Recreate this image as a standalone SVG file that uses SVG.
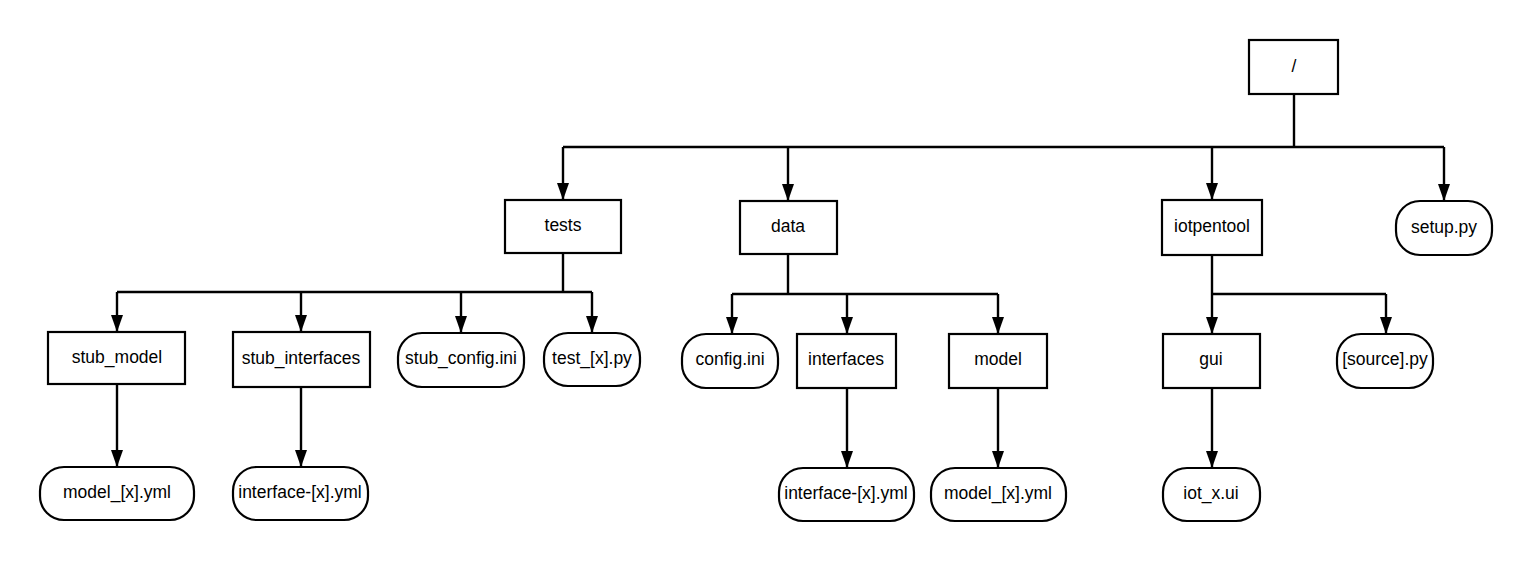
<svg xmlns="http://www.w3.org/2000/svg" width="1533" height="562" viewBox="0 0 1533 562">
  <style>
    .dir rect, .file rect { fill: #ffffff; stroke: #000000; stroke-width: 2.2; }
    text { font-family: "Liberation Sans", Arial, sans-serif; font-size: 17.5px; fill: #000000; text-anchor: middle; dominant-baseline: central; }
    .links path { fill: none; stroke: #000000; stroke-width: 2.4; }
  </style>
  <defs>
    <marker id="arrow" markerUnits="userSpaceOnUse" markerWidth="17" markerHeight="12" refX="17" refY="6" orient="auto" viewBox="0 0 17 12">
      <path d="M0,0 L17,6 L0,12 Z" fill="#000000"/>
    </marker>
  </defs>
  <rect width="1533" height="562" fill="#ffffff"/>

  <!-- connectors -->
  <g class="links">
    <!-- root -->
    <path d="M1294,94 V147"/>
    <path d="M563,147 H1444"/>
    <path d="M563,147 V200" marker-end="url(#arrow)"/>
    <path d="M788,147 V201" marker-end="url(#arrow)"/>
    <path d="M1212,147 V200" marker-end="url(#arrow)"/>
    <path d="M1444,147 V201" marker-end="url(#arrow)"/>
    <!-- tests -->
    <path d="M563,253 V292"/>
    <path d="M117,292 H592"/>
    <path d="M117,292 V332" marker-end="url(#arrow)"/>
    <path d="M301,292 V332" marker-end="url(#arrow)"/>
    <path d="M461,292 V333" marker-end="url(#arrow)"/>
    <path d="M592,292 V333" marker-end="url(#arrow)"/>
    <path d="M117,384 V467" marker-end="url(#arrow)"/>
    <path d="M301,387 V467" marker-end="url(#arrow)"/>
    <!-- data -->
    <path d="M788,254 V294"/>
    <path d="M732,294 H998"/>
    <path d="M732,294 V334" marker-end="url(#arrow)"/>
    <path d="M847,294 V334" marker-end="url(#arrow)"/>
    <path d="M998,294 V334" marker-end="url(#arrow)"/>
    <path d="M847,388 V468" marker-end="url(#arrow)"/>
    <path d="M998,388 V468" marker-end="url(#arrow)"/>
    <!-- iotpentool -->
    <path d="M1212,255 V294"/>
    <path d="M1212,294 H1386"/>
    <path d="M1212,294 V334" marker-end="url(#arrow)"/>
    <path d="M1386,294 V334" marker-end="url(#arrow)"/>
    <path d="M1212,388 V468" marker-end="url(#arrow)"/>
  </g>

  <!-- directories -->
  <g id="root" class="dir"><rect x="1249" y="40" width="89" height="54"/><text x="1294" y="66">/</text></g>
  <g id="tests" class="dir"><rect x="505" y="200" width="116" height="53"/><text x="563" y="225">tests</text></g>
  <g id="data" class="dir"><rect x="740" y="201" width="97" height="53"/><text x="788" y="226">data</text></g>
  <g id="iotpentool" class="dir"><rect x="1162" y="200" width="100" height="55"/><text x="1212" y="226">iotpentool</text></g>
  <g id="stub_model" class="dir"><rect x="48" y="332" width="137" height="52"/><text x="117" y="357">stub_model</text></g>
  <g id="stub_interfaces" class="dir"><rect x="233" y="332" width="137" height="55"/><text x="301" y="358">stub_interfaces</text></g>
  <g id="interfaces" class="dir"><rect x="797" y="334" width="99" height="54"/><text x="846" y="359">interfaces</text></g>
  <g id="model" class="dir"><rect x="949" y="334" width="98" height="54"/><text x="998" y="359">model</text></g>
  <g id="gui" class="dir"><rect x="1163" y="334" width="97" height="54"/><text x="1211" y="359">gui</text></g>

  <!-- files -->
  <g id="setup_py" class="file"><rect x="1396" y="201" width="96" height="54" rx="24"/><text x="1444" y="227">setup.py</text></g>
  <g id="stub_config_ini" class="file"><rect x="398" y="333" width="126" height="54" rx="24"/><text x="461" y="358">stub_config.ini</text></g>
  <g id="test_x_py" class="file"><rect x="544" y="333" width="96" height="53" rx="24"/><text x="592" y="358">test_[x].py</text></g>
  <g id="stub_model_yml" class="file"><rect x="40" y="467" width="154" height="53" rx="24"/><text x="117" y="492">model_[x].yml</text></g>
  <g id="stub_interface_yml" class="file"><rect x="233" y="467" width="135" height="53" rx="24"/><text x="300" y="492">interface-[x].yml</text></g>
  <g id="config_ini" class="file"><rect x="682" y="334" width="96" height="54" rx="24"/><text x="730" y="359">config.ini</text></g>
  <g id="interface_yml" class="file"><rect x="779" y="468" width="135" height="53" rx="24"/><text x="846" y="493">interface-[x].yml</text></g>
  <g id="model_yml" class="file"><rect x="931" y="468" width="135" height="53" rx="24"/><text x="998" y="493">model_[x].yml</text></g>
  <g id="source_py" class="file"><rect x="1337" y="334" width="96" height="54" rx="24"/><text x="1385" y="359">[source].py</text></g>
  <g id="iot_x_ui" class="file"><rect x="1163" y="468" width="97" height="53" rx="24"/><text x="1211" y="493">iot_x.ui</text></g>
</svg>
